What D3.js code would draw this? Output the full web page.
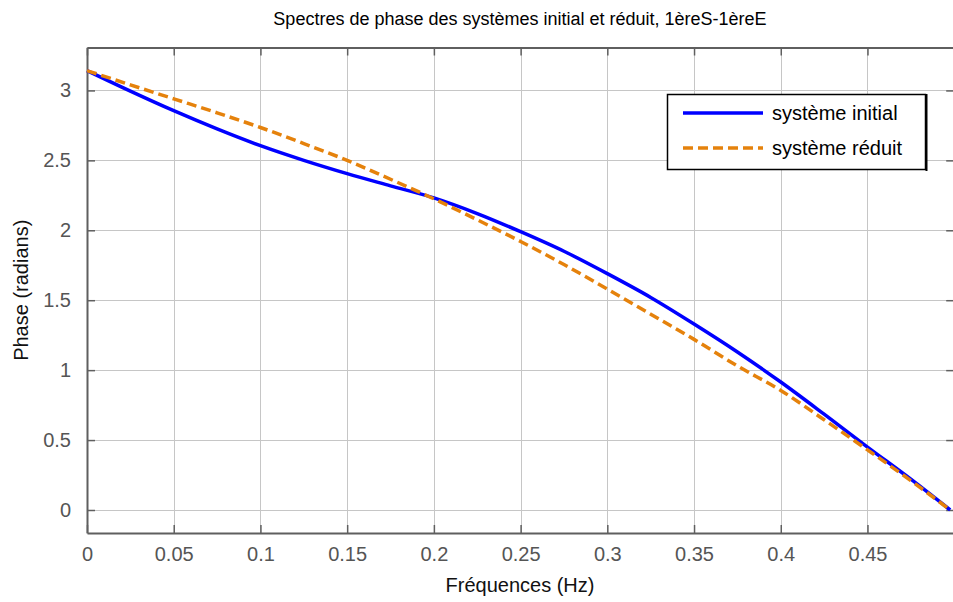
<!DOCTYPE html>
<html>
<head>
<meta charset="utf-8">
<script src="https://cdn.jsdelivr.net/npm/d3@7"></script>
<style>
  html, body { margin: 0; padding: 0; background: #fff; }
  svg { display: block; }
  text { font-family: "Liberation Sans", Arial, sans-serif; }
</style>
</head>
<body>
<script>
// ---- data ----
const freqs = [0, 0.025, 0.05, 0.075, 0.1, 0.125, 0.15, 0.175, 0.2, 0.225, 0.25,
               0.275, 0.3, 0.325, 0.35, 0.375, 0.4, 0.425, 0.45, 0.475, 0.4977];
const phaseInitial = [3.1416, 2.995, 2.855, 2.725, 2.605, 2.50, 2.405, 2.318, 2.232, 2.12, 1.99,
                      1.85, 1.69, 1.52, 1.33, 1.13, 0.915, 0.685, 0.45, 0.22, 0.0];
const phaseReduit = [3.1416, 3.04, 2.94, 2.84, 2.735, 2.62, 2.50, 2.365, 2.225, 2.075, 1.92,
                     1.755, 1.58, 1.40, 1.22, 1.03, 0.855, 0.645, 0.43, 0.21, 0.0];
const xTicks = [0, 0.05, 0.1, 0.15, 0.2, 0.25, 0.3, 0.35, 0.4, 0.45];
const xTickLabels = ["0", "0.05", "0.1", "0.15", "0.2", "0.25", "0.3", "0.35", "0.4", "0.45"];
const yTicks = [0, 0.5, 1, 1.5, 2, 2.5, 3];
const yTickLabels = ["0", "0.5", "1", "1.5", "2", "2.5", "3"];
const seriesNames = ["système initial", "système réduit"];
const titleText = "Spectres de phase des systèmes initial et réduit, 1èreS-1èreE";
const xLabelText = "Fréquences (Hz)";
const yLabelText = "Phase (radians)";

// ---- layout ----
const W = 953, H = 602;
const L = 87, T = 47.5, B = 533, R = 954.2;
const axisColor = "#5f5f5f";
const gridColor = "#c6c6c6";
const blue = "#0000ff";
const orange = "#e5820c";

const svg = d3.select("body").append("svg").attr("width", W).attr("height", H);

const x = d3.scaleLinear().domain([0, 0.5]).range([L, R]);
const y = d3.scaleLinear().domain([-0.1645, 3.307]).range([B, T]);

// grid
const grid = svg.append("g");
grid.selectAll("line.vx").data(xTicks.slice(1)).join("line")
  .attr("x1", d => Math.round(x(d)) + 0.5).attr("x2", d => Math.round(x(d)) + 0.5)
  .attr("y1", T).attr("y2", B)
  .attr("stroke", gridColor).attr("stroke-width", 1);
grid.selectAll("line.hy").data(yTicks).join("line")
  .attr("x1", L).attr("x2", W)
  .attr("y1", d => Math.round(y(d)) + 0.5).attr("y2", d => Math.round(y(d)) + 0.5)
  .attr("stroke", gridColor).attr("stroke-width", 1);

// axes (D3 axes with inward ticks)
const xAxisB = d3.axisBottom(x).tickValues(xTicks).tickFormat((d, i) => xTickLabels[i]).tickSizeInner(-8).tickSizeOuter(0).tickPadding(14);
const xAxisT = d3.axisTop(x).tickValues(xTicks).tickFormat("").tickSizeInner(-8).tickSizeOuter(0);
const yAxisL = d3.axisLeft(y).tickValues(yTicks).tickFormat((d, i) => yTickLabels[i]).tickSizeInner(-8).tickSizeOuter(0).tickPadding(16);
const yAxisR = d3.axisRight(y).tickValues(yTicks).tickFormat("").tickSizeInner(-8).tickSizeOuter(0);

function styleAxis(g) {
  g.select(".domain").attr("stroke", axisColor).attr("stroke-width", 2);
  g.selectAll(".tick line").attr("stroke", axisColor).attr("stroke-width", 1.5);
  g.selectAll(".tick text").attr("fill", "#555").attr("font-size", 20)
    .attr("font-family", "Liberation Sans, Arial, sans-serif");
}

svg.append("g").attr("transform", `translate(0,${B})`).call(xAxisB).call(styleAxis);
svg.append("g").attr("transform", `translate(0,${T})`).call(xAxisT).call(styleAxis);
svg.append("g").attr("transform", `translate(${L},0)`).call(yAxisL).call(styleAxis);
svg.append("g").attr("transform", `translate(${R},0)`).call(yAxisR).call(styleAxis);

// curves
const line = d3.line().x(d => x(d[0])).y(d => y(d[1])).curve(d3.curveMonotoneX);
const dataInit = freqs.map((f, i) => [f, phaseInitial[i]]);
const dataRed = freqs.map((f, i) => [f, phaseReduit[i]]);

svg.append("path").datum(dataInit).attr("d", line)
  .attr("fill", "none").attr("stroke", blue).attr("stroke-width", 3.5);
svg.append("path").datum(dataRed).attr("d", line)
  .attr("fill", "none").attr("stroke", orange).attr("stroke-width", 3.5)
  .attr("stroke-dasharray", "10,5");

// legend
const lg = svg.append("g");
lg.append("rect").attr("x", 667.5).attr("y", 94.5).attr("width", 258).attr("height", 75)
  .attr("fill", "#fff").attr("stroke", "#000").attr("stroke-width", 1.5);
lg.append("line").attr("x1", 926.5).attr("x2", 926.5).attr("y1", 94).attr("y2", 171)
  .attr("stroke", "#000").attr("stroke-width", 2);
const legendItems = [
  { name: seriesNames[0], color: blue, dash: null, cy: 113 },
  { name: seriesNames[1], color: orange, dash: "10,5", cy: 148 }
];
legendItems.forEach(it => {
  lg.append("line").attr("x1", 683).attr("x2", 763).attr("y1", it.cy).attr("y2", it.cy)
    .attr("stroke", it.color).attr("stroke-width", 3.5)
    .attr("stroke-dasharray", it.dash);
  lg.append("text").attr("x", 772).attr("y", it.cy + 7).attr("font-size", 20)
    .attr("fill", "#000").text(it.name);
});

// title & labels
svg.append("text").attr("x", 520).attr("y", 25).attr("text-anchor", "middle")
  .attr("font-size", 18).attr("fill", "#000").text(titleText);
svg.append("text").attr("x", 520).attr("y", 592).attr("text-anchor", "middle")
  .attr("font-size", 20).attr("fill", "#111").text(xLabelText);
svg.append("text").attr("transform", `translate(28,${(T + B) / 2}) rotate(-90)`)
  .attr("text-anchor", "middle").attr("font-size", 20).attr("fill", "#111").text(yLabelText);
</script>
</body>
</html>
